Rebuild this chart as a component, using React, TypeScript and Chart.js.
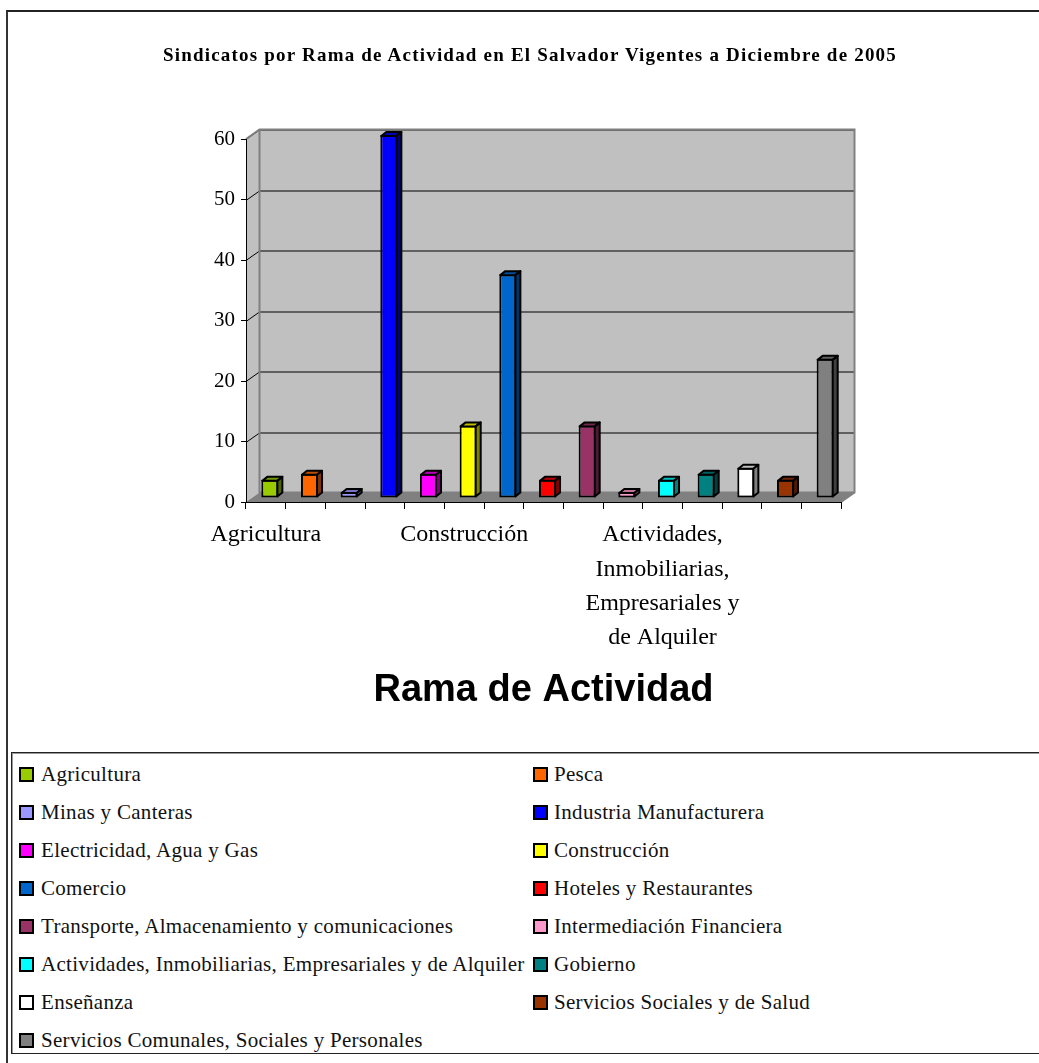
import React, { useEffect, useRef } from "react";
import { Chart, registerables } from "chart.js";

Chart.register(...registerables);

const categories = [
  "Agricultura",
  "Pesca",
  "Minas y Canteras",
  "Industria Manufacturera",
  "Electricidad, Agua y Gas",
  "Construcción",
  "Comercio",
  "Hoteles y Restaurantes",
  "Transporte, Almacenamiento y comunicaciones",
  "Intermediación Financiera",
  "Actividades, Inmobiliarias, Empresariales y de Alquiler",
  "Gobierno",
  "Enseñanza",
  "Servicios Sociales y de Salud",
  "Servicios Comunales, Sociales y Personales",
];
const values = [3, 4, 1, 60, 4, 12, 37, 3, 12, 1, 3, 4, 5, 3, 23];
const colors = [
  "#99CC00",
  "#FF6600",
  "#9999FF",
  "#0000FF",
  "#FF00FF",
  "#FFFF00",
  "#0066CC",
  "#FF0000",
  "#993366",
  "#FF99CC",
  "#00FFFF",
  "#008080",
  "#FFFFFF",
  "#993300",
  "#808080",
];
const yMin = 0;
const yMax = 60;
const yStep = 10;
const titleText = "Sindicatos por Rama de Actividad en El Salvador Vigentes a Diciembre de 2005";
const axisTitle = "Rama de Actividad";

const CW = 1039;
const CH = 745;

// wall depth and bar offsets (pixels)
const WDX = 13.5;
const WDY = -9.5;
const BDX = 4;
const BDY = -4;
const BDEPTHX = 5;
const BDEPTHY = -4;

function shade(hex: string, f: number): string {
  const n = parseInt(hex.slice(1), 16);
  const r = Math.round(((n >> 16) & 255) * f);
  const g = Math.round(((n >> 8) & 255) * f);
  const b = Math.round((n & 255) * f);
  return `rgb(${r},${g},${b})`;
}

function wrap(label: string, max: number): string[] {
  const words = label.split(" ");
  const lines: string[] = [];
  let cur = "";
  for (const w of words) {
    if (!cur) cur = w;
    else if ((cur + " " + w).length <= max) cur = cur + " " + w;
    else {
      lines.push(cur);
      cur = w;
    }
  }
  if (cur) lines.push(cur);
  return lines;
}

const walls3d = {
  id: "walls3d",
  beforeDraw(chart: any) {
    const { ctx, chartArea } = chart;
    const { left, right, top, bottom } = chartArea;
    const y = chart.scales.y;
    ctx.save();
    // back wall
    ctx.fillStyle = "#C0C0C0";
    ctx.fillRect(left + WDX, top + WDY, right - left, bottom - top);
    // left wall
    ctx.beginPath();
    ctx.moveTo(left, top);
    ctx.lineTo(left + WDX, top + WDY);
    ctx.lineTo(left + WDX, bottom + WDY);
    ctx.lineTo(left, bottom);
    ctx.closePath();
    ctx.fill();
    // floor
    ctx.fillStyle = "#808080";
    ctx.beginPath();
    ctx.moveTo(left, bottom);
    ctx.lineTo(left + WDX, bottom + WDY);
    ctx.lineTo(right + WDX, bottom + WDY);
    ctx.lineTo(right, bottom);
    ctx.closePath();
    ctx.fill();
    // gridlines
    ctx.strokeStyle = "#000";
    ctx.lineWidth = 1;
    for (let v = yMin + yStep; v <= yMax; v += yStep) {
      const py = Math.round(y.getPixelForValue(v)) + 0.5;
      ctx.beginPath();
      ctx.moveTo(left, py);
      ctx.lineTo(left + WDX, py + WDY);
      ctx.lineTo(right + WDX, py + WDY);
      ctx.stroke();
    }
    // wall borders
    ctx.strokeStyle = "#808080";
    ctx.lineWidth = 2;
    ctx.beginPath();
    ctx.moveTo(left, top);
    ctx.lineTo(left + WDX, top + WDY);
    ctx.lineTo(right + WDX, top + WDY);
    ctx.lineTo(right + WDX, bottom + WDY);
    ctx.lineTo(right, bottom);
    ctx.stroke();
    ctx.beginPath();
    ctx.moveTo(left + WDX, top + WDY);
    ctx.lineTo(left + WDX, bottom + WDY);
    ctx.lineTo(right + WDX, bottom + WDY);
    ctx.stroke();
    ctx.restore();
  },
  beforeDatasetsDraw(chart: any) {
    chart.ctx.save();
    chart.ctx.translate(BDX, BDY);
  },
  afterDatasetsDraw(chart: any) {
    const ctx = chart.ctx;
    const meta = chart.getDatasetMeta(0);
    ctx.lineWidth = 2;
    ctx.lineJoin = "round";
    ctx.strokeStyle = "#000";
    meta.data.forEach((bar: any, i: number) => {
      const { x, y, base, width } = bar.getProps(["x", "y", "base", "width"], true);
      const l = x - width / 2 + 1;
      const r = x + width / 2 - 1;
      const t = y + 1;
      const b = base - 1;
      const c = colors[i];
      // top face
      ctx.fillStyle = shade(c, 0.75);
      ctx.beginPath();
      ctx.moveTo(l, t);
      ctx.lineTo(l + BDEPTHX, t + BDEPTHY);
      ctx.lineTo(r + BDEPTHX, t + BDEPTHY);
      ctx.lineTo(r, t);
      ctx.closePath();
      ctx.fill();
      ctx.stroke();
      // side face
      ctx.fillStyle = shade(c, 0.5);
      ctx.beginPath();
      ctx.moveTo(r, t);
      ctx.lineTo(r + BDEPTHX, t + BDEPTHY);
      ctx.lineTo(r + BDEPTHX, b + BDEPTHY);
      ctx.lineTo(r, b);
      ctx.closePath();
      ctx.fill();
      ctx.stroke();
    });
    ctx.restore();
  },
};

function ChartCanvas() {
  const ref = useRef<HTMLCanvasElement | null>(null);
  useEffect(() => {
    if (!ref.current) return;
    const chart = new Chart(ref.current, {
      type: "bar",
      data: {
        labels: categories,
        datasets: [
          {
            label: axisTitle,
            data: values,
            backgroundColor: colors,
            borderColor: "#000",
            borderWidth: 2,
            borderSkipped: false,
            barPercentage: 0.43,
            categoryPercentage: 1,
            clip: false as any,
          },
        ],
      },
      options: {
        animation: false,
        responsive: false,
        layout: { padding: { left: 0, right: CW - 841, top: 139, bottom: 0 } },
        plugins: {
          legend: { display: false },
          tooltip: { enabled: false },
          title: { display: false },
        },
        scales: {
          x: {
            grid: {
              offset: true,
              drawOnChartArea: false,
              drawTicks: true,
              tickLength: 7,
              color: "#000",
              lineWidth: 1,
            },
            border: { display: true, color: "#000", width: 1 },
            ticks: {
              autoSkip: false,
              maxRotation: 0,
              minRotation: 0,
              padding: 9,
              color: "#000",
              font: { family: "'Liberation Serif', serif", size: 24, lineHeight: 1.43 },
              callback: function (this: any, value: any, index: number) {
                if (index % 5 !== 0) return "";
                return wrap(this.getLabelForValue(value), 15);
              },
            },
            title: {
              display: true,
              text: axisTitle,
              color: "#000",
              font: { family: "'Liberation Sans', Arial, sans-serif", size: 38, weight: "bold" },
              padding: { top: 0, bottom: 32 },
            },
            afterFit: (s: any) => {
              s.height = CH - 502;
            },
          },
          y: {
            min: yMin,
            max: yMax,
            grid: {
              drawOnChartArea: false,
              drawTicks: true,
              tickLength: 5,
              color: "#000",
              lineWidth: 1,
            },
            border: { display: true, color: "#000", width: 1 },
            ticks: {
              stepSize: yStep,
              padding: 6,
              color: "#000",
              font: { family: "'Liberation Serif', serif", size: 21 },
            },
            afterFit: (s: any) => {
              s.width = 246;
            },
          },
        },
      },
      plugins: [walls3d],
    });
    return () => chart.destroy();
  }, []);
  return <canvas ref={ref} width={CW} height={CH} style={{ display: "block", width: CW, height: CH }} />;
}

export default function App() {
  const rowY = (row: number) => 774 + row * 38.1 - 753;
  return (
    <div
      style={{
        position: "absolute",
        left: 0,
        top: 0,
        width: 1039,
        height: 1063,
        overflow: "hidden",
        background: "#fff",
      }}
    >
      <div
        style={{
          position: "absolute",
          left: 6,
          top: 10,
          width: 1100,
          height: 1100,
          borderLeft: "2px solid #333",
          borderTop: "2px solid #222",
        }}
      />
      <div style={{ position: "absolute", left: 0, top: 0 }}>
        <ChartCanvas />
      </div>
      <div
        style={{
          position: "absolute",
          left: 0,
          top: 43,
          width: 1060,
          textAlign: "center",
          fontFamily: "'Liberation Serif', serif",
          fontWeight: "bold",
          fontSize: 19,
          lineHeight: "23px",
          letterSpacing: "1.2px",
          color: "#000",
          whiteSpace: "nowrap",
        }}
      >
        {titleText}
      </div>
      <div
        style={{
          position: "absolute",
          left: 11,
          top: 752,
          width: 1100,
          height: 300,
          border: "1px solid #222",
          boxShadow: "inset 1px 1px 0 #999",
          fontFamily: "'Liberation Serif', serif",
          fontSize: 21,
          letterSpacing: "0.3px",
          color: "#111",
        }}
      >
        {categories.map((c, i) => {
          const col = i % 2;
          const row = Math.floor(i / 2);
          const cy = rowY(row);
          return (
            <React.Fragment key={c}>
              <div
                style={{
                  position: "absolute",
                  left: col === 0 ? 7 : 521,
                  top: cy - 7.5,
                  width: 11,
                  height: 11,
                  border: "2px solid #000",
                  background: colors[i],
                }}
              />
              <div
                style={{
                  position: "absolute",
                  left: col === 0 ? 29 : 542,
                  top: cy - 12.5,
                  lineHeight: "24px",
                  whiteSpace: "nowrap",
                }}
              >
                {c}
              </div>
            </React.Fragment>
          );
        })}
      </div>
    </div>
  );
}
